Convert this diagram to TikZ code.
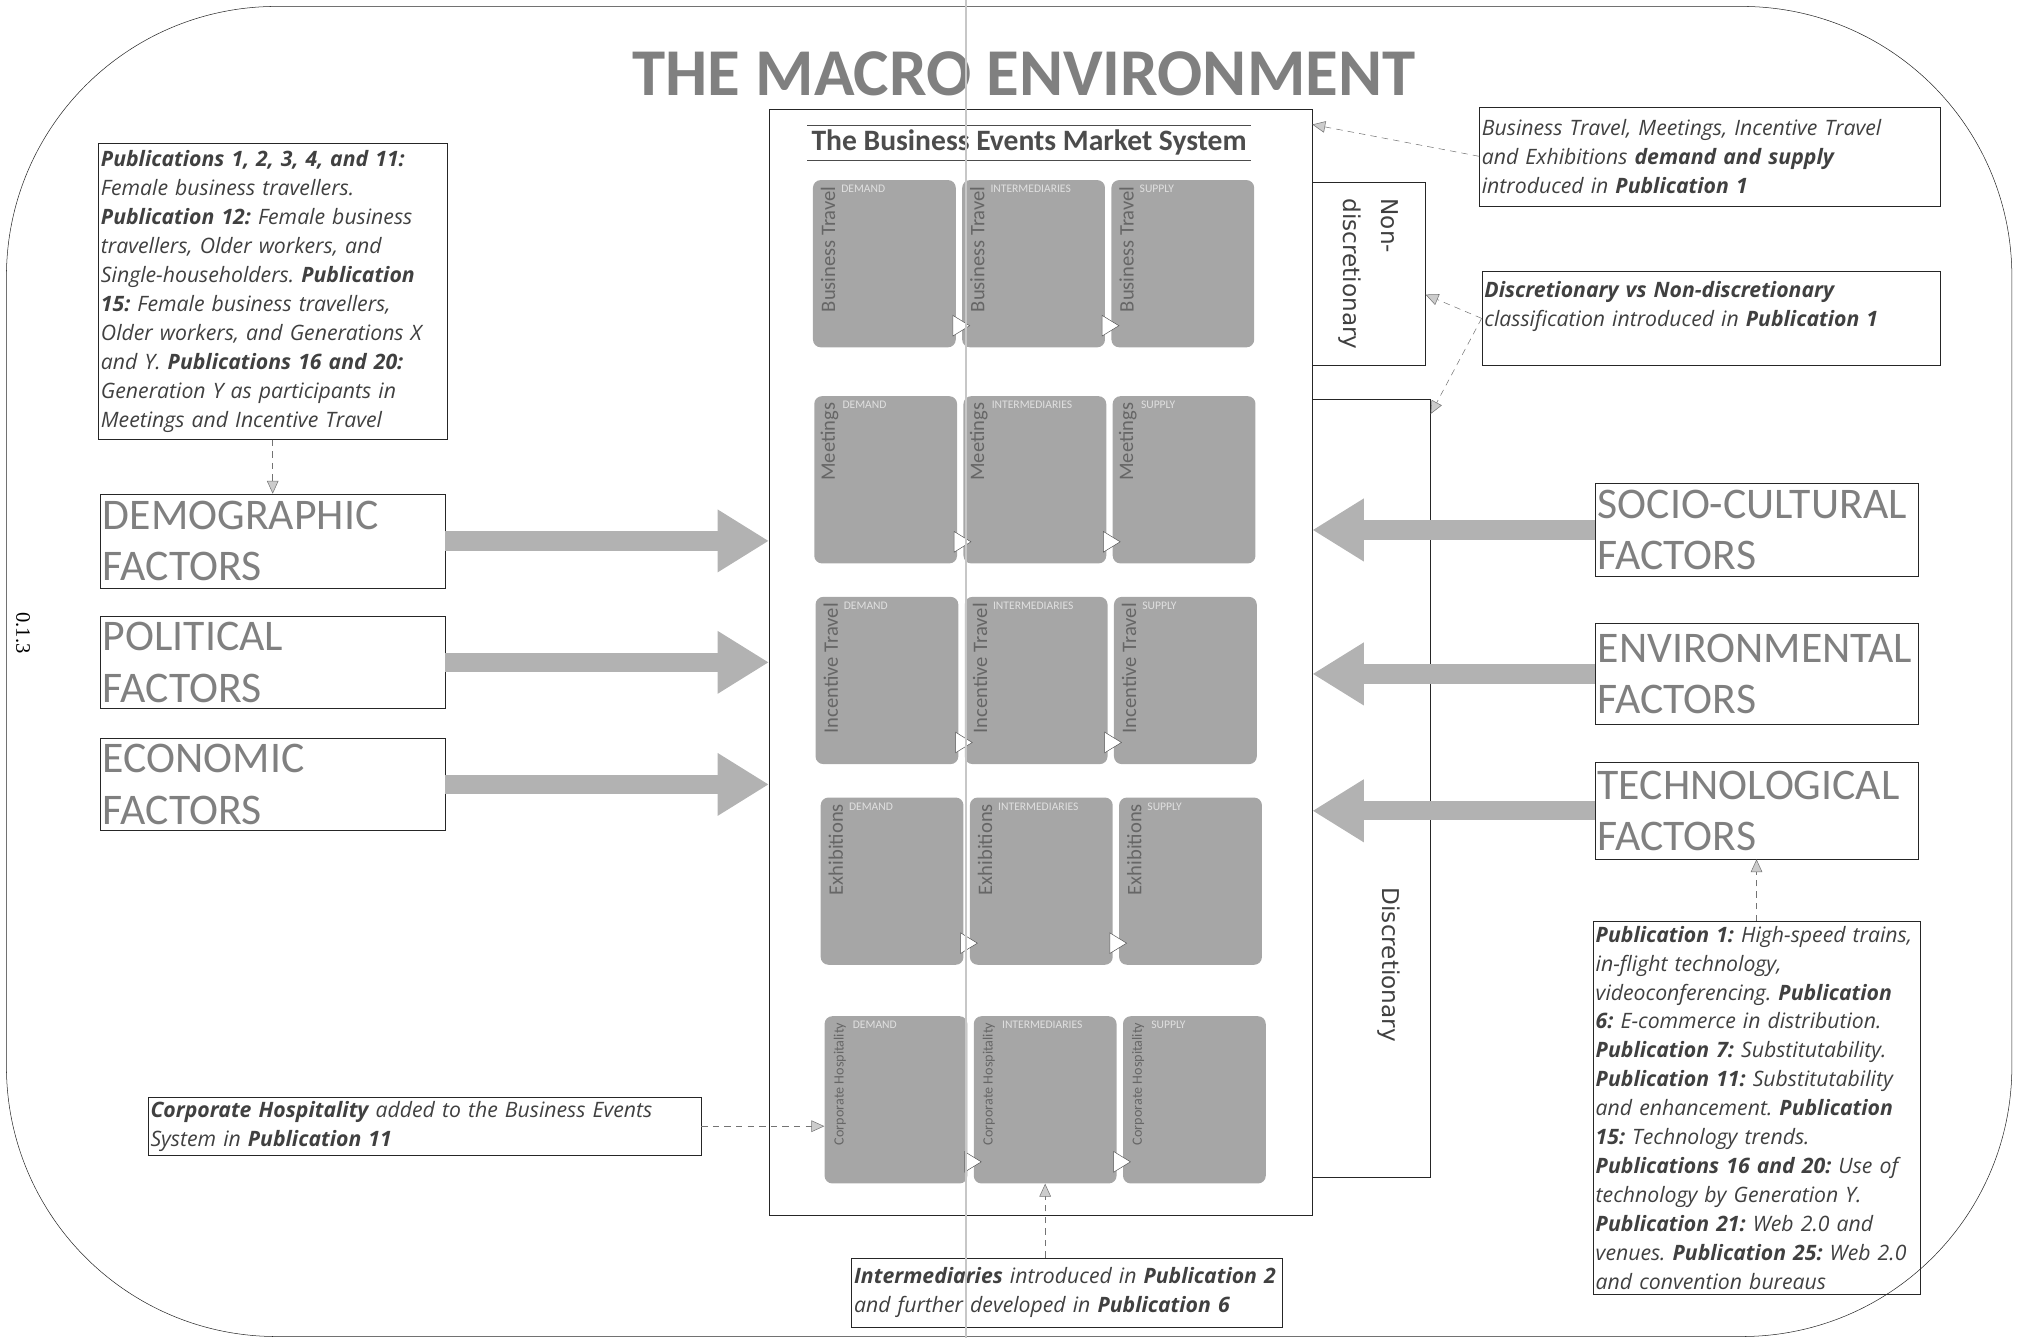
\documentclass[tikz,border=0pt]{standalone}
\usepackage{fontspec}
\setmainfont{Carlito}
\newfontfamily\notefont{Open Sans}
\newfontfamily\sidefont{DejaVu Sans}
\newfontfamily\pagefont{Liberation Serif}
\usetikzlibrary{positioning,calc,arrows.meta}

\begin{document}
\begin{tikzpicture}[x=1pt,y=-1pt,
    factor/.style={draw=black!85,minimum width=268pt,minimum height=73pt,text width=264pt,inner xsep=2pt,inner ysep=4pt,align=left,text=black!50,font=\fontsize{34}{40}\selectfont},
    note/.style={draw=black!85,inner xsep=2pt,inner ysep=2pt,align=left,text=black!75,font=\notefont\itshape\frenchspacing\fontsize{16.5}{22.5}\selectfont},
    side/.style={draw=black!85,inner sep=0pt},
    sidetext/.style={rotate=-90,align=left,text=black!75,font=\sidefont\fontsize{18}{30}\selectfont},
    tile/.style={fill=black!35,rounded corners=6pt,minimum width=111pt,minimum height=130pt,inner sep=0pt},
    kind/.style={anchor=north west,inner sep=0pt,text=white!88!black,font=\fontsize{9}{9}\selectfont},
    flow/.style={black!30,line width=15pt,-{Triangle[length=40pt,width=46pt]}},
    ref/.style={black!55,dash pattern=on 5pt off 4pt,-{Triangle[length=10pt,width=9pt,fill=black!20]}}]

  \useasboundingbox (0,0) rectangle (1568,1040);
  \node[draw=black!85,rounded corners=210pt,minimum width=1559pt,minimum height=1034pt] (env) at (784.5,522) {};
  \node[rotate=-90,font=\pagefont\fontsize{16}{16}\selectfont] (page) at (18,492) {0.1.3};
  \node[text=black!50,font=\bfseries\fontsize{52}{56}\selectfont] (title) at (796,57) {THE MACRO ENVIRONMENT};

  % market system
  \node[draw=black!85,minimum width=422pt,minimum height=860pt] (sys) at (809,515) {};
  \node[text=black!70,font=\bfseries\fontsize{23}{24}\selectfont] (systitle) at (800,111) {The Business Events Market System};
  \draw[black!70] (systitle.north west) -- (systitle.north east);
  \draw[black!70,thick] (systitle.south west) -- (systitle.south east);

  \foreach \r/\top/\sh/\name/\fs in {1/140/0/Business Travel/16, 2/308/1/Meetings/16, 3/464/2/Incentive Travel/16, 4/620/6/Exhibitions/16, 5/790/9/Corporate Hospitality/11}{
    \foreach \c/\kind in {1/DEMAND, 2/INTERMEDIARIES, 3/SUPPLY}{
      \node[tile] (t\r\c) at ({687.5+\sh+116*(\c-1)},{\top+65}) {};
      \node[kind] at ($(t\r\c.north west)+(22,4)$) {\kind};
      \node[rotate=90,anchor=east,inner sep=0pt,text=black!60,font=\fontsize{\fs}{\fs}\selectfont] at ($(t\r\c.north west)+(12,5)$) {\name};
    }
    \foreach \c in {2,3}
      \filldraw[fill=white,draw=black!65] ($(t\r\c.south west)+(6,-17)$) -- ++(-13,-8) -- ++(0,16) -- cycle;
  }

  % side classes
  \node[side,minimum width=88pt,minimum height=142pt] (nondisc) at (1064,213) {};
  \node[sidetext] (nondisctext) at (nondisc) {Non-\\discretionary};
  \node[side,minimum width=92pt,minimum height=605pt] (disc) at (1066,612.5) {};
  \node[sidetext] (disctext) at (1080,750) {Discretionary};

  % factors
  \node[factor] (demo) at (212,420.5) {DEMOGRAPHIC\\FACTORS};
  \node[factor,minimum height=71pt] (pol) [below=22pt of demo] {POLITICAL\\FACTORS};
  \node[factor,minimum height=72pt] (eco) [below=23pt of pol] {ECONOMIC\\FACTORS};
  \node[factor,minimum width=251pt,text width=247pt,minimum height=72pt] (socio) at (1365.5,412) {SOCIO-CULTURAL\\FACTORS};
  \node[factor,minimum width=251pt,text width=247pt,minimum height=79pt] (envf) [below=36pt of socio] {ENVIRONMENTAL\\FACTORS};
  \node[factor,minimum width=251pt,text width=247pt,minimum height=75pt] (tech) [below=29pt of envf] {TECHNOLOGICAL\\FACTORS};

  % notes
  \node[note,text width=267pt,minimum height=230pt] (demonote) [above=42pt of demo] {\textbf{Publications 1, 2, 3, 4, and 11:}\\
    Female business travellers.\\
    \textbf{Publication 12:} Female business\\
    travellers, Older workers, and\\
    Single-householders. \textbf{Publication}\\
    \textbf{15:} Female business travellers,\\
    Older workers, and Generations X\\
    and Y. \textbf{Publications 16 and 20:}\\
    Generation Y as participants in\\
    Meetings and Incentive Travel};
  \node[note,text width=354pt,minimum height=77pt] (topnote) at (1329,121.5) {Business Travel, Meetings, Incentive Travel\\
    and Exhibitions \textbf{demand and supply}\\
    introduced in \textbf{Publication 1}};
  \node[note,text width=352pt,minimum height=73pt] (discnote) at (1330,247.5) {\textbf{Discretionary vs Non-discretionary}\\
    classification introduced in \textbf{Publication 1}\\ \mbox{}};
  \node[note,text width=250pt,minimum height=290pt] (technote) [below=48pt of tech] {\textbf{Publication 1:} High-speed trains,\\
    in-flight technology,\\
    videoconferencing. \textbf{Publication}\\
    \textbf{6:} E-commerce in distribution.\\
    \textbf{Publication 7:} Substitutability.\\
    \textbf{Publication 11:} Substitutability\\
    and enhancement. \textbf{Publication}\\
    \textbf{15:} Technology trends.\\
    \textbf{Publications 16 and 20:} Use of\\
    technology by Generation Y.\\
    \textbf{Publication 21:} Web 2.0 and\\
    venues. \textbf{Publication 25:} Web 2.0\\
    and convention bureaus};
  \node[note,text width=426pt,minimum height=45pt] (corpnote) at (330,875.5) {\textbf{Corporate Hospitality} added to the Business Events\\
    System in \textbf{Publication 11}};
  \node[note,text width=331pt,minimum height=54pt] (intnote) at (829.5,1005) {\textbf{Intermediaries} introduced in \textbf{Publication 2}\\
    and further developed in \textbf{Publication 6}};

  % forces
  \foreach \f in {demo,pol,eco}
    \draw[flow] (\f.east) -- (\f.east -| sys.west);
  \foreach \f in {socio,envf,tech}
    \draw[flow] (\f.west) -- (\f.west -| sys.east);

  % references
  \draw[ref] (demonote.south) -- (demonote.south |- demo.north);
  \draw[ref] (topnote.west) -- ($(sys.north east)+(0,12)$);
  \draw[ref] (discnote.west) -- ($(nondisc.east)+(0,16)$);
  \draw[ref] (discnote.west) -- ($(disc.north east)+(0,12)$);
  \draw[ref] (technote.north) -- (technote.north |- tech.south);
  \draw[ref] (corpnote.east) -- (corpnote.east -| t51.west);
  \draw[ref] (t52.south |- intnote.north) -- (t52.south);

  % fold of the scan
  \draw[black!22,line width=1pt] (751,0) -- (751,1040);
\end{tikzpicture}
\end{document}
